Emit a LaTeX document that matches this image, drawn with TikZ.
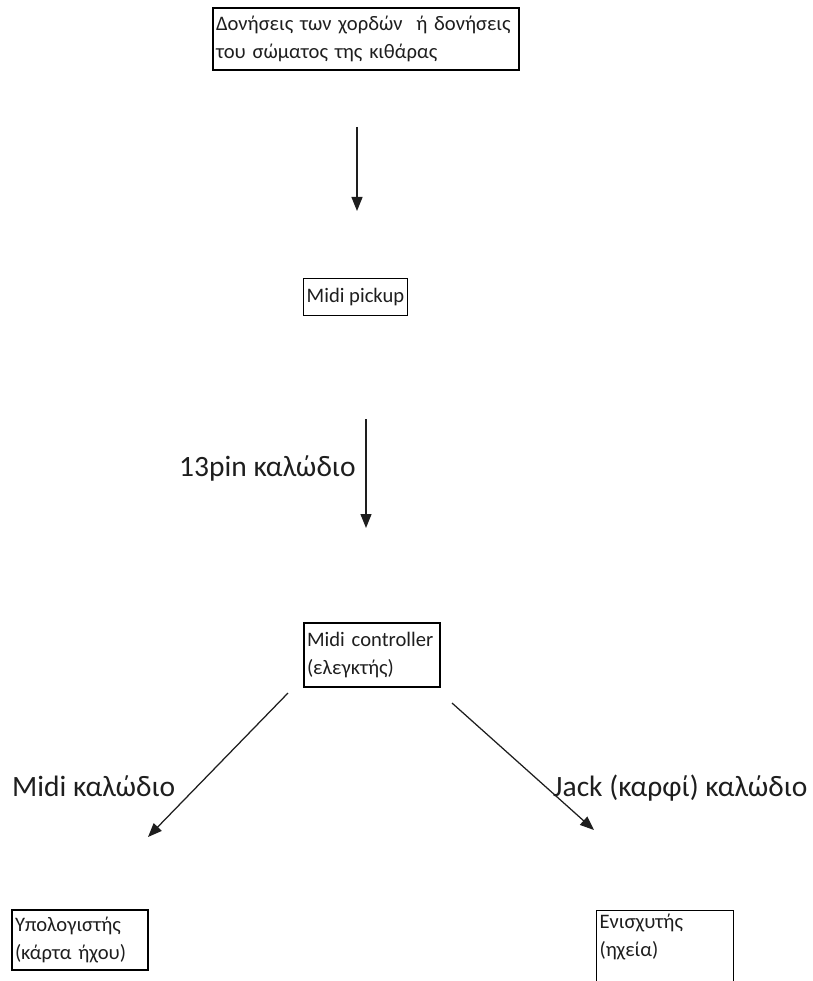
\documentclass[tikz,border=0pt]{standalone}
\usepackage{fontspec}
\setmainfont{Carlito}
\usetikzlibrary{arrows.meta}
\definecolor{ink}{HTML}{1E1E1E}
\begin{document}
\begin{tikzpicture}[x=1pt,y=-1pt,
  boxtext/.style={font=\fontsize{20.6}{28}\selectfont, text=ink},
  stagebox/.style={boxtext, draw=black, line width=1.1pt, inner xsep=3pt, inner ysep=2pt, align=left},
  cablelabel/.style={font=\fontsize{29.5}{34}\selectfont, text=ink, inner sep=0pt, anchor=base west},
  flow/.style={draw=ink, line width=1.25pt, -{Triangle[length=14pt,width=11pt]}}]
  \useasboundingbox (0,0) rectangle (812,981);
  \clip (0,0) rectangle (812,981);

  % stages
  \node[stagebox, text width=300pt, minimum height=62pt] (vib) at (366,39)
    {Δονήσεις των χορδών \ ή δονήσεις\\του σώματος της κιθάρας};
  \node[stagebox, minimum width=104pt, minimum height=37pt] (pickup) at (355.5,297)
    {Midi pickup};
  \node[stagebox, text width=130pt, minimum height=64pt] (ctrl) at (372,655)
    {Midi controller\\(ελεγκτής)};
  \node[stagebox, text width=130pt, minimum height=60pt] (pc) at (80,940)
    {Υπολογιστής\\(κάρτα ήχου)};
  \node[boxtext, draw=black, line width=1.1pt, inner xsep=3pt, inner ysep=3pt, anchor=north west] (amp) at (596,910)
    {\parbox[t][110pt][t]{131pt}{Ενισχυτής\\(ηχεία)}};

  % connector end points
  \coordinate (a1s) at (357,127);  \coordinate (a1e) at (357,211);
  \coordinate (a2s) at (366,419);  \coordinate (a2e) at (366,528);
  \coordinate (a3s) at (288,693);  \coordinate (a3e) at (148,837);
  \coordinate (a4s) at (452,703);  \coordinate (a4e) at (594,830);

  \draw[flow] (a1s) -- (a1e);
  \draw[flow] (a2s) -- (a2e);
  \draw[flow] (a3s) -- (a3e);
  \draw[flow] (a4s) -- (a4e);

  % cable labels
  \node[cablelabel] (l13) at (179,476) {13pin καλώδιο};
  \node[cablelabel] (lmidi) at (12,796) {Midi καλώδιο};
  \node[cablelabel] (ljack) at (553,796) {Jack (καρφί) καλώδιο};
\end{tikzpicture}
\end{document}
